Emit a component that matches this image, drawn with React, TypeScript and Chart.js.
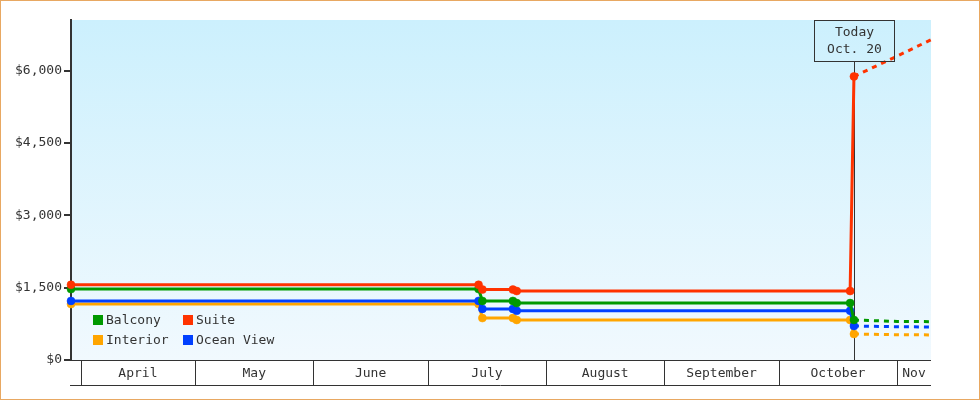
import React, { useEffect, useRef } from 'react';
import { Chart, registerables } from 'chart.js';

Chart.register(...registerables);

// x values are days counted from April 1 (fractions = time of day)
const historyDays = [-2.54, 104.3, 105.3, 113.3, 114.3, 201.7, 202.7];
const balcony = [1470, 1470, 1225, 1225, 1180, 1180, 830];
const suite = [1560, 1560, 1460, 1460, 1430, 1430, 5880];
const interior = [1160, 1160, 870, 870, 830, 830, 540];
const oceanView = [1225, 1225, 1060, 1060, 1020, 1020, 705];

const forecastDays = [202.7, 214, 222.9];
const balconyForecast = [830, 800, 795];
const suiteForecast = [5880, 6300, 6640];
const interiorForecast = [540, 525, 520];
const oceanViewForecast = [705, 690, 685];

const months = ['April', 'May', 'June', 'July', 'August', 'September', 'October', 'Nov'];
const monthStartDays = [0, 30, 61, 91, 122, 153, 183, 214];
const todayDay = 202.7;
const todayLabel = ['Today', 'Oct. 20'];
const yTicks = [0, 1500, 3000, 4500, 6000];
const xMin = -2.54;
const xMax = 222.9;
const yMax = 7050;

const FONT = '13px "DejaVu Sans Mono", monospace';
const INK = '#333333';

const seriesDefs = [
  { name: 'Balcony', color: '#009900', values: balcony, forecast: balconyForecast, order: 1 },
  { name: 'Suite', color: '#ff3300', values: suite, forecast: suiteForecast, order: 0 },
  { name: 'Interior', color: '#ffa500', values: interior, forecast: interiorForecast, order: 3 },
  { name: 'Ocean View', color: '#0040ff', values: oceanView, forecast: oceanViewForecast, order: 2 },
];

const decorPlugin = {
  id: 'decor',
  beforeDraw(chart: any) {
    const { ctx, chartArea: a, width, height } = chart;
    ctx.save();
    ctx.fillStyle = '#ffffff';
    ctx.fillRect(0, 0, width, height);
    const g = ctx.createLinearGradient(0, a.top, 0, a.bottom);
    g.addColorStop(0, '#ccf0fd');
    g.addColorStop(1, '#f1f9fe');
    ctx.fillStyle = g;
    ctx.fillRect(a.left, a.top, a.right - a.left, a.bottom - a.top);
    ctx.strokeStyle = '#e8a862';
    ctx.lineWidth = 1;
    ctx.strokeRect(0.5, 0.5, width - 1, height - 1);
    ctx.restore();
  },
  beforeDatasetsDraw(chart: any) {
    const { ctx, chartArea: a, scales } = chart;
    const tx = Math.round(scales.x.getPixelForValue(todayDay)) + 0.5;
    ctx.save();
    ctx.strokeStyle = INK;
    ctx.lineWidth = 1;
    ctx.beginPath();
    ctx.moveTo(tx, a.top + 41);
    ctx.lineTo(tx, a.bottom);
    ctx.stroke();
    ctx.restore();
  },
  afterDraw(chart: any) {
    const { ctx, chartArea: a, scales } = chart;
    const xs = scales.x;
    ctx.save();
    ctx.strokeStyle = INK;
    ctx.lineWidth = 1;
    ctx.font = FONT;
    ctx.fillStyle = INK;
    ctx.textAlign = 'center';
    ctx.textBaseline = 'middle';

    // month band
    const top = Math.round(a.bottom) + 0.5;
    const bot = top + 25;
    ctx.beginPath();
    ctx.moveTo(a.left, top);
    ctx.lineTo(a.right, top);
    ctx.moveTo(a.left - 1, bot);
    ctx.lineTo(a.right, bot);
    monthStartDays.forEach((d) => {
      const px = Math.round(xs.getPixelForValue(d)) + 0.5;
      ctx.moveTo(px, top);
      ctx.lineTo(px, bot);
    });
    ctx.stroke();
    months.forEach((m, i) => {
      const s = xs.getPixelForValue(monthStartDays[i]);
      const e = i + 1 < monthStartDays.length ? xs.getPixelForValue(monthStartDays[i + 1]) : a.right;
      ctx.fillText(m, (s + Math.min(e, a.right)) / 2, top + 13.5);
    });

    // today box
    const tx = Math.round(xs.getPixelForValue(todayDay)) + 0.5;
    const bx = tx - 40;
    ctx.strokeRect(bx, a.top + 0.5, 80, 41);
    ctx.fillText(todayLabel[0], tx, a.top + 13);
    ctx.fillText(todayLabel[1], tx, a.top + 30);

    // legend
    ctx.textAlign = 'left';
    const cols = [a.left + 22, a.left + 112];
    const rows = [a.bottom - 40, a.bottom - 20];
    seriesDefs.forEach((s, i) => {
      const x = cols[i % 2];
      const y = rows[Math.floor(i / 2)];
      ctx.fillStyle = s.color;
      ctx.fillRect(x, y - 5, 10, 10);
      ctx.fillStyle = INK;
      ctx.fillText(s.name, x + 13, y + 1);
    });
    ctx.restore();
  },
};

export default function App() {
  const ref = useRef<HTMLCanvasElement | null>(null);
  useEffect(() => {
    if (!ref.current) return;
    const datasets: any[] = [];
    seriesDefs.forEach((s) => {
      datasets.push({
        label: s.name,
        data: historyDays.map((x, i) => ({ x, y: s.values[i] })),
        borderColor: s.color,
        backgroundColor: s.color,
        borderWidth: 3,
        pointRadius: 4,
        pointBorderWidth: 0.5,
        pointBorderColor: s.color,
        pointBackgroundColor: s.color,
        tension: 0,
        clip: false,
        order: s.order,
      });
      datasets.push({
        label: s.name + ' forecast',
        data: forecastDays.map((x, i) => ({ x, y: s.forecast[i] })),
        borderColor: s.color,
        borderWidth: 3,
        borderDash: [5, 5],
        pointRadius: 0,
        tension: 0,
        clip: false,
        order: s.order + 10,
      });
    });
    const chart = new Chart(ref.current, {
      type: 'line',
      data: { datasets },
      options: {
        responsive: false,
        animation: false,
        devicePixelRatio: 1,
        layout: { padding: { top: 20, right: 49, bottom: 40, left: 0 } },
        plugins: { legend: { display: false }, tooltip: { enabled: false } },
        scales: {
          x: { type: 'linear', min: xMin, max: xMax, display: false },
          y: {
            type: 'linear',
            min: 0,
            max: yMax,
            afterBuildTicks: (s: any) => {
              s.ticks = yTicks.map((v) => ({ value: v }));
            },
            afterFit: (s: any) => {
              s.width = 71;
            },
            border: { display: true, color: INK, width: 2 },
            grid: { drawOnChartArea: false, tickLength: 7, color: INK, lineWidth: 2 },
            ticks: {
              callback: (v: any) => '$' + Number(v).toLocaleString('en-US'),
              font: { family: '"DejaVu Sans Mono", monospace', size: 13 },
              color: INK,
              padding: 2,
            },
          },
        },
      },
      plugins: [decorPlugin],
    });
    return () => chart.destroy();
  }, []);
  return (
    <div style={{ position: 'absolute', left: 0, top: 0, width: 980, height: 400 }}>
      <canvas ref={ref} width={980} height={400} />
    </div>
  );
}
